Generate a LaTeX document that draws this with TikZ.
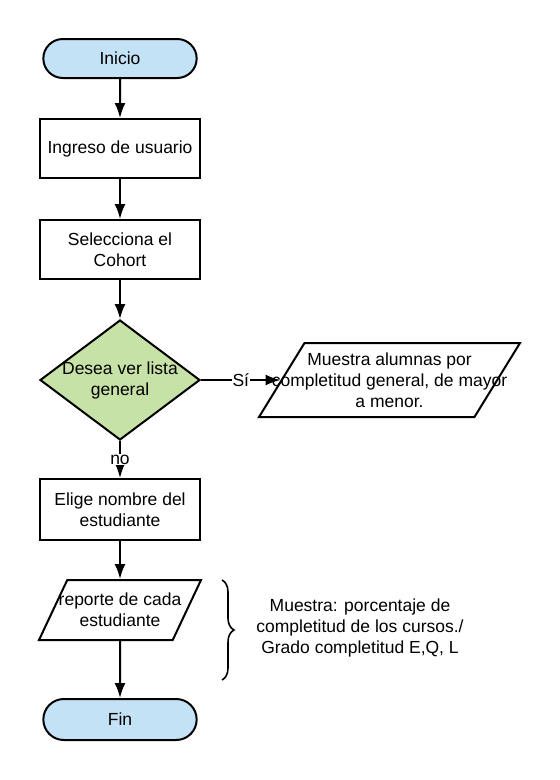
\documentclass[tikz,border=0pt]{standalone}
\usepackage{fontspec}
\setmainfont{Liberation Sans}
\usetikzlibrary{shapes.geometric}
\usetikzlibrary{shapes.misc}
\usetikzlibrary{arrows.meta}
\usetikzlibrary{decorations.pathreplacing}
\definecolor{inicioazul}{RGB}{196,226,246}
\definecolor{decisionverde}{RGB}{199,226,166}

\begin{document}
\begin{tikzpicture}[x=1pt, y=-1pt, font=\fontsize{17.5}{21}\selectfont]
\tikzset{edge/.style = {-{Latex[length=15pt,width=11pt]}, line width=2pt}}
\tikzset{terminal/.style = {rounded rectangle, draw, line width=2pt, fill=inicioazul, minimum width=160pt, minimum height=39pt}}
\tikzset{proceso/.style = {rectangle, draw, line width=2pt, align=center, minimum width=160pt, minimum height=59pt}}
\tikzset{pregunta/.style = {diamond, draw, line width=2pt, fill=decisionverde, inner sep=0pt, minimum width=160pt, minimum height=120pt}}
\tikzset{datos/.style = {trapezium, trapezium left angle=75, trapezium right angle=105, trapezium stretches=true, draw, line width=2pt, inner sep=3pt}}

   \useasboundingbox (0,0) rectangle (560,780);

   \node[terminal] (inicio) at (120, 58.5) {Inicio};
   \node[proceso] (ingreso) at (120, 148.5) {Ingreso de usuario};
   \node[proceso] (cohort) at (120, 249.5) {Selecciona el\\Cohort};
   \node[pregunta, label={[align=center]center:{Desea ver lista\\general}}] (decision) at (120, 380) {};
   \node[datos, minimum width=261pt, minimum height=74pt,
         label={[align=center]center:{Muestra alumnas por\\completitud general, de mayor\\a menor.}}] (lista) at (389.5, 380) {};
   \node[proceso, minimum height=61pt] (elige) at (120, 509.5) {Elige nombre del\\estudiante};
   \node[datos, minimum width=162pt, minimum height=60pt,
         label={[align=center]center:{reporte de cada\\estudiante}}] (reporte) at (120, 610) {};
   \node[terminal, minimum height=41pt] (fin) at (120, 719.5) {Fin};

   \draw[edge] (inicio) -- (ingreso);
   \draw[edge] (ingreso) -- (cohort);
   \draw[edge] (cohort) -- (decision);
   \draw[edge] (decision) -- node[fill=white, inner sep=1pt] (si) {Sí} (lista);
   \draw[edge] (decision) -- node[fill=white, inner sep=1pt] (no) {no} (elige);
   \draw[edge] (elige) -- (reporte);
   \draw[edge] (reporte) -- (fin);

   % llave con la nota
   \coordinate (llave arriba) at (222, 580);
   \coordinate (llave abajo) at (222, 680);
   \draw[line width=1.6pt, decorate, decoration={brace, amplitude=12pt}] (llave arriba) -- (llave abajo);
   \node[align=center] (nota) at (360, 628) {Muestra: porcentaje de\\completitud de los cursos./\\Grado completitud E,Q, L};

\end{tikzpicture}
\end{document}
